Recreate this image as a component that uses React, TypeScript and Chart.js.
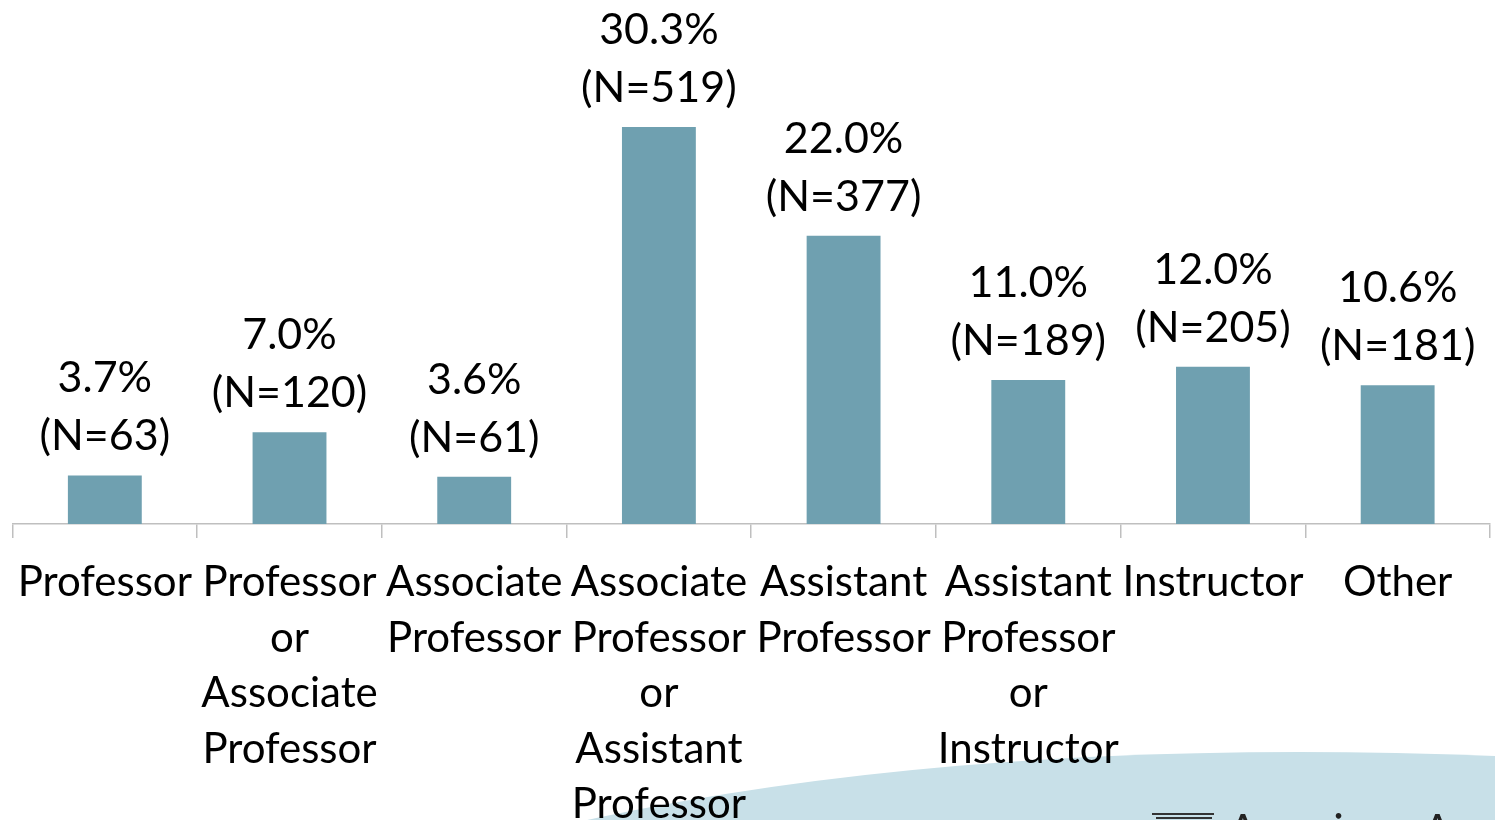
import React, { useEffect, useRef } from "react";
import { Chart, registerables } from "chart.js";

Chart.register(...registerables);

const categories: string[][] = [
  ["Professor"],
  ["Professor", "or", "Associate", "Professor"],
  ["Associate", "Professor"],
  ["Associate", "Professor", "or", "Assistant", "Professor"],
  ["Assistant", "Professor"],
  ["Assistant", "Professor", "or", "Instructor"],
  ["Instructor"],
  ["Other"],
];
const percents: number[] = [3.7, 7.0, 3.6, 30.3, 22.0, 11.0, 12.0, 10.6];
const counts: number[] = [63, 120, 61, 519, 377, 189, 205, 181];

const FONT = "Lato";
const TICK_SIZE = 42;
const LABEL_SIZE = 43;

const backgroundPlugin = {
  id: "swoosh",
  beforeDraw(chart: any) {
    const ctx = chart.ctx;
    ctx.save();
    ctx.fillStyle = "#C8E0E8";
    ctx.beginPath();
    ctx.moveTo(560, 826);
    ctx.quadraticCurveTo(960, 735, 1495, 756);
    ctx.lineTo(1495, 850);
    ctx.lineTo(560, 850);
    ctx.closePath();
    ctx.fill();
    // logo fragment
    ctx.strokeStyle = "#333";
    ctx.lineWidth = 2;
    ctx.beginPath();
    ctx.moveTo(1152, 814);
    ctx.lineTo(1214, 814);
    ctx.moveTo(1156, 818);
    ctx.lineTo(1212, 818);
    ctx.stroke();
    ctx.fillStyle = "#222";
    ctx.font = `44px ${FONT}`;
    ctx.textBaseline = "alphabetic";
    ctx.textAlign = "left";
    ctx.fillText("American Association", 1228, 846);
    ctx.restore();
  },
};

const labelPlugin = {
  id: "barLabels",
  afterDatasetsDraw(chart: any) {
    const ctx = chart.ctx;
    const meta = chart.getDatasetMeta(0);
    ctx.save();
    ctx.fillStyle = "#000";
    ctx.font = `${LABEL_SIZE}px ${FONT}`;
    ctx.textAlign = "center";
    ctx.textBaseline = "middle";
    meta.data.forEach((bar: any, i: number) => {
      ctx.fillText(percents[i].toFixed(1) + "%", bar.x, bar.y - 97);
      ctx.fillText("(N=" + counts[i] + ")", bar.x, bar.y - 39);
    });
    ctx.restore();
  },
};

export default function App() {
  const ref = useRef<HTMLCanvasElement>(null);
  useEffect(() => {
    document.body.style.margin = "0";
    const chart = new Chart(ref.current as HTMLCanvasElement, {
      type: "bar",
      data: {
        labels: categories,
        datasets: [
          {
            data: percents,
            backgroundColor: "#6FA0B0",
            borderWidth: 0,
            categoryPercentage: 1,
            barPercentage: 0.4,
          },
        ],
      },
      options: {
        animation: false,
        responsive: false,
        maintainAspectRatio: false,
        layout: { padding: { left: 11, right: 5, top: 0, bottom: 0 } },
        plugins: {
          legend: { display: false },
          tooltip: { enabled: false },
        },
        scales: {
          x: {
            offset: true,
            border: { display: true, color: "#BFBFBF", width: 1.5 },
            grid: {
              offset: true,
              drawOnChartArea: false,
              drawTicks: true,
              tickLength: 14,
              color: "#BFBFBF",
              lineWidth: 1.5,
            },
            ticks: {
              color: "#000",
              padding: 17,
              maxRotation: 0,
              autoSkip: false,
              font: { family: FONT, size: TICK_SIZE, lineHeight: "55.5px" },
            },
            afterFit(scale: any) {
              scale.height = 326;
            },
          },
          y: {
            display: false,
            min: 0,
            max: 40,
          },
        },
      },
      plugins: [backgroundPlugin, labelPlugin],
    });
    return () => chart.destroy();
  }, []);
  return (
    <div style={{ position: "absolute", left: 0, top: 0, width: 1495, height: 820, overflow: "hidden" }}>
      <canvas ref={ref} width={1495} height={850} style={{ display: "block" }} />
    </div>
  );
}
